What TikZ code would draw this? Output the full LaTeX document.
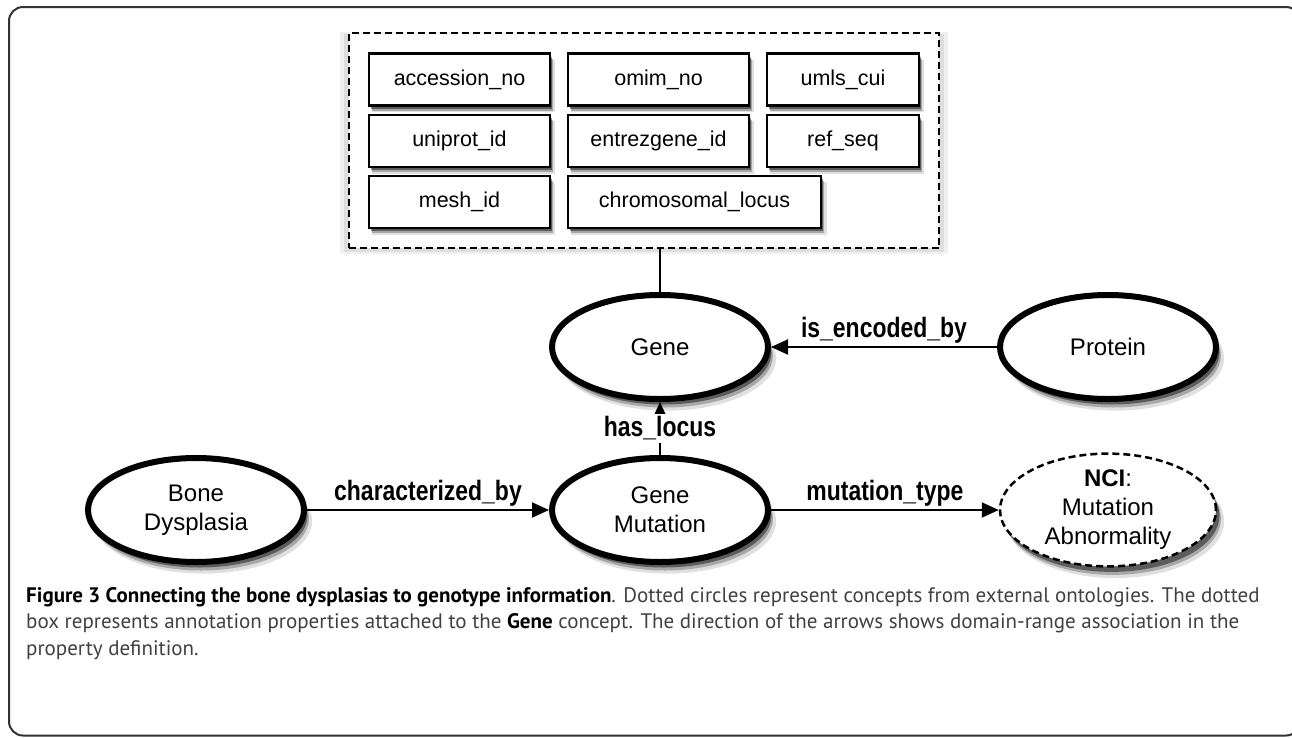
\documentclass[tikz,border=0pt]{standalone}
\usepackage{fontspec}
\setmainfont{Liberation Sans}
\newfontfamily\labelfont[FakeStretch=0.82]{Liberation Sans}
\newfontfamily\capfont{PT Sans}
\usetikzlibrary{arrows.meta,shapes.geometric,fit,shadows,backgrounds}

\tikzset{
  soft/.style={
    drop shadow={shadow xshift=1.4*#1, shadow yshift=-2.2*#1, shadow scale=1.01, opacity=0.12, fill=black},
    drop shadow={shadow xshift=#1, shadow yshift=-1.7*#1, opacity=0.25, fill=black},
    drop shadow={shadow xshift=0.7*#1, shadow yshift=-1.1*#1, opacity=0.45, fill=black}},
  prop/.style={draw, line width=2.5pt, fill=white, minimum height=52pt, inner sep=0pt,
    font=\fontsize{21.5}{24}\selectfont, soft=3pt},
  concept/.style={ellipse, draw, line width=6pt, fill=white, minimum width=216pt, minimum height=104pt,
    inner sep=0pt, align=center, font=\fontsize{24}{29}\selectfont, soft=5pt},
  extconcept/.style={concept, line width=2.5pt, dash pattern=on 7pt off 4pt},
  rel/.style={line width=2pt, -{Triangle[length=17pt,width=15pt]}},
  rellabel/.style={font=\labelfont\bfseries\fontsize{28}{30}\selectfont, inner sep=3pt}
}

\begin{document}
\begin{tikzpicture}[x=1pt,y=-1pt]
\useasboundingbox (0,0) rectangle (1292,737);
\draw [line width=2pt, black!80, rounded corners=14pt] (9,7) rectangle (1300,735.5);

% annotation properties
\node [prop, minimum width=181pt] (acc) at (459.5,79.5) {accession\_no};
\node [prop, minimum width=181pt] (omim) at (658.5,79.5) {omim\_no};
\node [prop, minimum width=152pt] (umls) at (843,79.5) {umls\_cui};
\node [prop, minimum width=181pt] (uniprot) at (459.5,141) {uniprot\_id};
\node [prop, minimum width=181pt] (entrez) at (658.5,141) {entrezgene\_id};
\node [prop, minimum width=152pt] (refseq) at (843,141) {ref\_seq};
\node [prop, minimum width=181pt] (mesh) at (459.5,202) {mesh\_id};
\node [prop, minimum width=253pt] (chrom) at (694.5,202) {chromosomal\_locus};
\begin{scope}[on background layer]
\node [draw, line width=2pt, dash pattern=on 7pt off 4pt, inner sep=19pt, fill=white,
  fit=(acc)(umls)(mesh),
  drop shadow={shadow xshift=0pt, shadow yshift=-2pt, shadow scale=1.03, opacity=0.06, fill=black},
  drop shadow={shadow xshift=0pt, shadow yshift=-2pt, shadow scale=1.015, opacity=0.08, fill=black}] (annot) {};
\end{scope}

% concepts
\node [concept] (gene) at (660,347) {Gene};
\node [concept] (protein) at (1108,347) {Protein};
\node [concept] (bone) at (196,510) {Bone\\Dysplasia};
\node [concept] (mut) at (660,510) {Gene\\Mutation};
\node [extconcept] (nci) at (1108,510) {{\bfseries NCI}:\\Mutation\\Abnormality};

% relations
\draw [line width=2pt] (gene.north |- annot.south) -- (gene.north);
\draw [rel] (protein) -- node [rellabel, above] {is\_encoded\_by} (gene);
\draw [rel] (mut) -- node [rellabel, fill=white] {has\_locus} (gene);
\draw [rel] (bone) -- node [rellabel, above] {characterized\_by} (mut);
\draw [rel] (mut) -- node [rellabel, above] {mutation\_type} (nci);

% caption
\node [anchor=north west, align=left, inner sep=0pt, text=black!75,
  font=\capfont\fontsize{21}{26.5}\selectfont] (caption) at (26,587)
  {{\color{black}\bfseries Figure 3 Connecting the bone dysplasias to genotype information}. Dotted circles represent concepts from external ontologies. The dotted\\
   box represents annotation properties attached to the {\color{black}\bfseries Gene} concept. The direction of the arrows shows domain-range association in the\\
   property definition.};
\end{tikzpicture}
\end{document}
